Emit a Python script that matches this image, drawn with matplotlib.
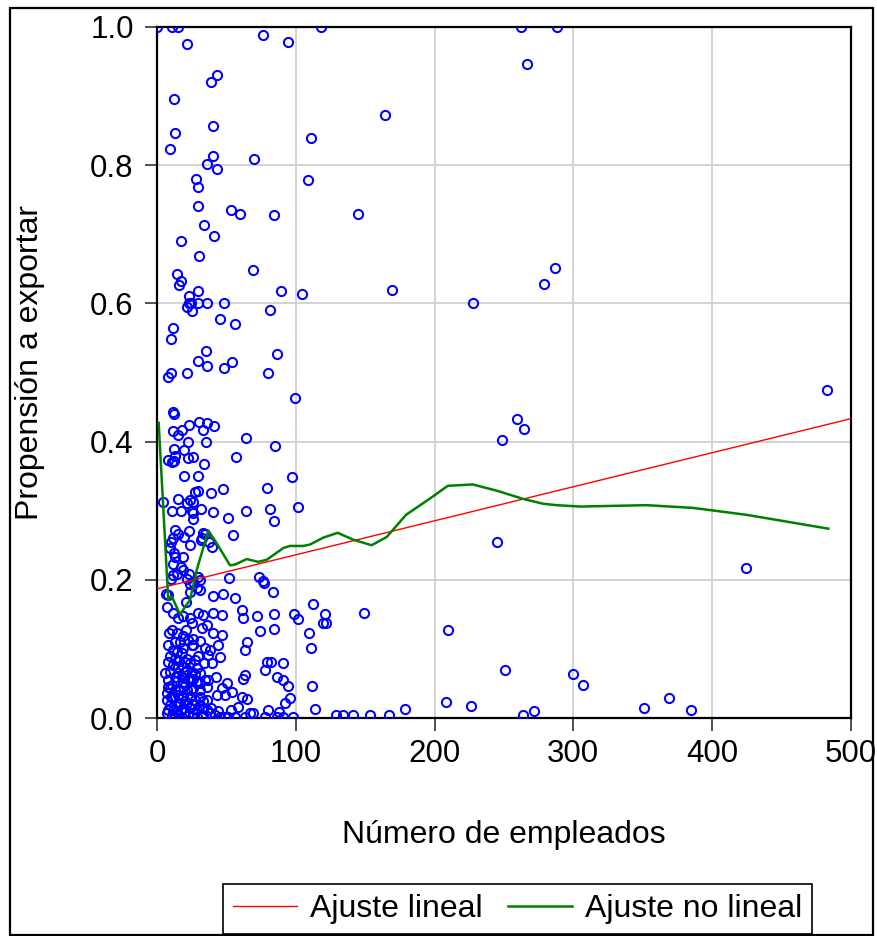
import matplotlib
matplotlib.use("Agg")
import matplotlib.pyplot as plt
from matplotlib.patches import Rectangle

plt.rcParams['font.family'] = ['Liberation Sans', 'DejaVu Sans']

# ---------------- data ----------------
upper_pts = [
    (0, 1.0), (10.6, 1.0), (15.2, 1.0), (21.5, 0.976), (76, 0.988), (94, 0.979), (118, 1.0),
    (262, 1.0), (288, 1.0), (267, 0.947),
    (43, 0.931), (39, 0.921), (12, 0.896), (40, 0.857), (13, 0.847), (9, 0.824), (40, 0.813),
    (70, 0.809), (36, 0.802), (43, 0.795), (28, 0.78), (29, 0.769), (29, 0.741), (53, 0.735),
    (60, 0.729), (84, 0.728), (34, 0.714), (41, 0.697), (17, 0.69),
    (108.5, 0.779), (110.6, 0.840), (144.5, 0.730), (164.5, 0.873), (169.1, 0.619),
    (104.6, 0.613), (227.5, 0.601), (278.6, 0.628), (286.9, 0.651),
    (30, 0.668), (69, 0.649), (14, 0.643), (17, 0.632), (16, 0.627), (29, 0.618), (89, 0.618),
    (23, 0.61), (22.6, 0.6), (24, 0.6), (29, 0.6), (36, 0.6), (48, 0.6), (21.5, 0.595),
    (25, 0.589), (81, 0.59), (45, 0.578), (56, 0.57), (11, 0.564), (10, 0.549), (35, 0.531),
    (86, 0.527), (29, 0.517), (36, 0.509), (54, 0.515), (48, 0.506), (10, 0.499), (8, 0.493),
    (21.5, 0.499), (80, 0.499), (99, 0.463), (11, 0.443), (12, 0.44), (11, 0.415), (18, 0.417),
    (23, 0.424), (30, 0.428), (36, 0.427), (41, 0.423), (33, 0.417), (15, 0.409), (22, 0.4),
    (35, 0.4), (64, 0.405), (85, 0.393), (12, 0.39), (19.5, 0.388), (13, 0.379), (8, 0.373),
    (10.5, 0.37), (12, 0.372), (22, 0.376), (26, 0.378), (57, 0.378), (34, 0.367),
]

middle_pts = [
    (19, 0.350), (29, 0.350), (97, 0.349), (3.9, 0.313), (27.2, 0.327), (29.6, 0.329),
    (38.7, 0.325), (47.6, 0.331), (78.9, 0.333), (14.7, 0.317), (21.2, 0.311), (23.6, 0.316),
    (25.5, 0.312), (24.8, 0.300), (31.3, 0.302), (26, 0.296), (25.5, 0.288), (10.8, 0.300),
    (16.9, 0.300), (40, 0.298), (50.8, 0.290), (64, 0.300), (81.3, 0.302), (84, 0.285),
    (101.3, 0.305),
    (12.8, 0.272), (15.2, 0.266), (11.5, 0.260), (9.7, 0.255), (9.2, 0.246), (12, 0.239),
    (19.5, 0.262), (22.9, 0.271), (23.6, 0.250), (18.8, 0.233), (12.8, 0.233), (11.5, 0.223),
    (32, 0.26), (33.2, 0.268), (34.4, 0.266), (31.3, 0.257), (37.5, 0.255), (39.2, 0.247),
    (54.8, 0.265),
    (17.1, 0.218), (18.8, 0.214), (14.4, 0.209), (11.1, 0.207), (9.9, 0.201), (7.9, 0.178),
    (23.1, 0.209), (21.2, 0.201), (26, 0.197), (23.6, 0.194), (29.6, 0.204), (30.8, 0.200),
    (30.8, 0.185), (28.4, 0.188), (23.6, 0.183), (20.7, 0.168),
    (51.7, 0.203), (73.1, 0.204), (76, 0.198), (77.2, 0.196), (83.7, 0.183),
    (6.3, 0.180), (40.4, 0.177), (47.2, 0.180), (56, 0.173),
]

lower_pts = [
    (6.8, 0.161), (11.6, 0.152), (15.2, 0.144), (18.8, 0.147), (23.6, 0.144), (24.8, 0.137),
    (29.6, 0.152), (33.2, 0.149), (40.4, 0.152), (46.4, 0.149), (60.9, 0.156), (62, 0.144),
    (10.4, 0.127), (14, 0.123), (12.8, 0.110), (18.8, 0.118), (22.4, 0.113), (26, 0.115),
    (24.8, 0.106), (32, 0.130), (40.4, 0.123), (46.4, 0.120), (64.5, 0.110), (63.3, 0.098),
    (7.9, 0.106), (11.5, 0.098), (18.8, 0.101), (17.6, 0.094), (21.2, 0.086), (34.4, 0.101),
    (38, 0.098), (36.8, 0.091), (45.2, 0.089), (39.2, 0.079), (7.9, 0.081), (11.5, 0.077),
    (15.2, 0.074), (18.8, 0.074), (23.6, 0.079), (9.2, 0.067), (15.2, 0.065), (17.6, 0.060),
    (20, 0.067), (24.8, 0.067), (28.4, 0.072), (30.8, 0.065), (26, 0.057), (5.6, 0.065),
    (7.9, 0.055), (14, 0.053), (18.8, 0.050), (23.6, 0.053), (28.4, 0.053), (34.4, 0.055),
    (35.6, 0.045), (30.8, 0.041), (21.2, 0.041), (16.4, 0.041), (9.2, 0.043), (6.8, 0.036),
    (11.5, 0.031), (18.8, 0.031), (23.6, 0.031), (30.8, 0.031), (36.8, 0.055), (46.4, 0.043),
    (50.1, 0.050), (42.8, 0.033), (48.8, 0.033), (53.7, 0.038), (62, 0.057), (63.3, 0.062),
    (60.9, 0.031), (64.5, 0.028), (58.4, 0.016), (6.8, 0.026), (9.2, 0.019), (11.5, 0.012),
    (14, 0.009), (16.4, 0.021), (21.2, 0.021), (23.6, 0.014), (26, 0.007), (28.4, 0.012),
    (30.8, 0.019), (33.2, 0.014), (35.6, 0.012), (38, 0.007), (41.6, 0.004), (45.2, 0.002),
    (48.8, 0.002), (51.2, 0.002), (56, 0.002), (63.3, 0.002), (35.6, 0.026), (27.2, 0.026),
    (20, 0.009), (6.8, 0.007), (10.4, 0.004),
    (8.5, 0.123), (16.4, 0.110), (20, 0.081), (27.2, 0.084), (12.8, 0.086), (22.4, 0.057),
    (10.4, 0.048), (26, 0.043), (15.2, 0.021), (18.8, 0.014), (22.4, 0.004), (28.4, 0.002),
    (33.2, 0.004), (17.6, 0.002), (12.8, 0.002),
    (9.5, 0.090), (14.0, 0.095), (16.0, 0.082), (13.0, 0.060), (19.5, 0.058), (21.5, 0.070),
    (8.0, 0.045), (12.5, 0.040), (15.0, 0.033), (20.0, 0.025), (25.0, 0.020), (17.0, 0.012),
    (10.0, 0.030), (13.5, 0.018), (24.0, 0.040), (27.0, 0.063), (31.0, 0.050), (33.0, 0.024),
    (39.0, 0.015), (43.5, 0.010), (8.0, 0.012), (29.0, 0.090), (33.5, 0.080), (42.0, 0.060),
    (26.0, 0.105), (20.5, 0.128), (31.0, 0.112), (36.0, 0.135), (44.0, 0.105), (53.0, 0.012),
    (71.7, 0.148), (74.1, 0.126), (84.4, 0.129), (84.2, 0.151), (98.6, 0.151), (101.7, 0.143),
    (78.9, 0.081), (81.8, 0.081), (77.7, 0.070), (90.5, 0.080), (86.1, 0.060), (90.9, 0.055),
    (94.5, 0.046), (95.7, 0.029), (92.1, 0.021), (69.2, 0.007), (77.7, 0.002), (80.1, 0.011),
    (86.1, 0.002), (90.9, 0.002), (98.1, 0.002), (88, 0.008), (66.9, 0.007),
]

right_pts = [
    (248.4, 0.402), (259.7, 0.432), (264.7, 0.418), (244.8, 0.255), (482.8, 0.474),
    (424.4, 0.217), (209.7, 0.128), (250.8, 0.069), (300.1, 0.063), (307.3, 0.048),
    (351.3, 0.014), (369.3, 0.029), (385, 0.012), (208.5, 0.023), (226.3, 0.018),
    (263.6, 0.004), (271.7, 0.010), (128.9, 0.005), (134.2, 0.004), (141.4, 0.004),
    (153.4, 0.005), (167.3, 0.004), (178.7, 0.013), (111.8, 0.047), (113.7, 0.013),
    (112.5, 0.165), (121, 0.150), (119.7, 0.137), (121.7, 0.137), (149.1, 0.152),
    (109.6, 0.123), (110.6, 0.101),
]

points = upper_pts + middle_pts + lower_pts + right_pts
empleados = [p[0] for p in points]
propension = [p[1] for p in points]

# linear fit (endpoints)
lin_x = [0, 500]
lin_y = [0.187, 0.433]

# non-linear fit
nl_x = [1, 7.9, 10.4, 16.4, 23.6, 28.4, 36.8, 42.8, 52.4, 56, 64.5, 72.8, 78.9, 90.9, 95.7,
        105.3, 110.1, 119.7, 130.1, 141.4, 154.6, 165.5, 179.4, 199.1, 209.5, 227.5, 244.8,
        264, 278.4, 288.1, 304.9, 353, 369.8, 386.6, 425.1, 484]
nl_y = [0.427, 0.171, 0.176, 0.150, 0.171, 0.214, 0.271, 0.253, 0.221, 0.222, 0.230, 0.226,
        0.229, 0.246, 0.249, 0.249, 0.251, 0.261, 0.268, 0.258, 0.250, 0.262, 0.294, 0.321,
        0.336, 0.338, 0.329, 0.317, 0.310, 0.308, 0.306, 0.308, 0.306, 0.304, 0.294, 0.274]

x_ticks = [0, 100, 200, 300, 400, 500]
y_ticks = [0.0, 0.2, 0.4, 0.6, 0.8, 1.0]
y_tick_labels = ['0.0', '0.2', '0.4', '0.6', '0.8', '1.0']

# ---------------- figure ----------------
W, H = 877, 936
fig = plt.figure(figsize=(W / 100, H / 100), dpi=100)
ax = fig.add_axes([157.3 / W, (H - 718) / H, 693.2 / W, 691 / H])

ax.set_xlim(0, 500)
ax.set_ylim(0, 1.0)
ax.grid(True, color='#d0d0d0', linewidth=1.3)
ax.set_axisbelow(True)

ax.plot(empleados, propension, 'o', mfc='none', mec='#0000ff', ms=6.6, mew=1.45, zorder=3)
l1, = ax.plot(lin_x, lin_y, color='#ff0000', lw=1.0, zorder=4, label='Ajuste lineal')
l2, = ax.plot(nl_x, nl_y, color='#008000', lw=1.8, zorder=4, label='Ajuste no lineal')

ax.set_xticks(x_ticks)
ax.set_yticks(y_ticks)
ax.set_yticklabels(y_tick_labels)
ax.tick_params(axis='both', direction='out', length=9, width=1.2, labelsize=22.5,
               color='#333333', pad=6)
ax.tick_params(axis='y', pad=8)
for s in ax.spines.values():
    s.set_linewidth(1.6)
    s.set_color('black')

ax.set_xlabel('Número de empleados', fontsize=23)
ax.xaxis.set_label_coords(0.5, (718 - 835) / 691)
ax.xaxis.label.set_va('center')
ax.set_ylabel('Propensión a exportar', fontsize=23)
ax.yaxis.set_label_coords((30 - 157.3) / 693.2, (718 - 362) / 691)
ax.yaxis.label.set_va('center')

leg = ax.legend(handles=[l1, l2], loc='center', ncol=2,
                bbox_to_anchor=(517.5 / W, (H - 909) / H), bbox_transform=fig.transFigure,
                frameon=True, fancybox=False, edgecolor='black', framealpha=1,
                fontsize=23, handlelength=2.0, handletextpad=0.4, columnspacing=0.8,
                borderpad=0.32)
leg.get_frame().set_linewidth(1.2)

fig.patches.append(Rectangle((10 / W, 1 / H), 863 / W, 927 / H, transform=fig.transFigure,
                             fill=False, lw=1.6, ec='black'))

fig.savefig('out.png', dpi=100)
